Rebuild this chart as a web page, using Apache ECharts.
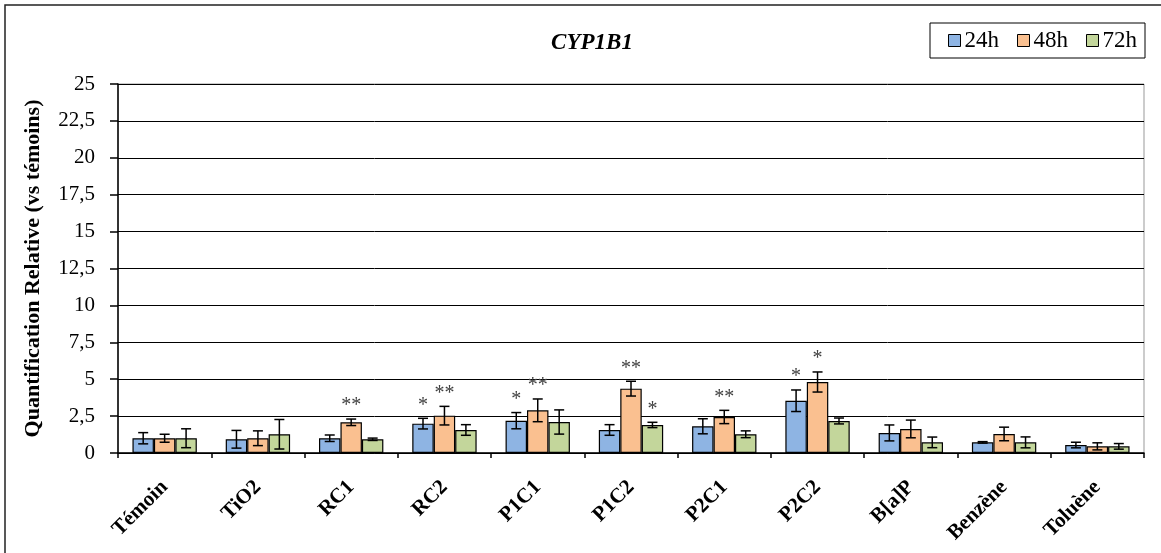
<!DOCTYPE html>
<html>
<head>
<meta charset="utf-8">
<script src="https://cdn.jsdelivr.net/npm/echarts@6/dist/echarts.min.js"></script>
<style>html,body{margin:0;padding:0;background:#fff;}#c{width:1161px;height:553px;}</style>
</head>
<body>
<div id="c"></div>
<script>
const categories = ['Témoin','TiO2','RC1','RC2','P1C1','P1C2','P2C1','P2C2','B[a]P','Benzène','Toluène'];
const seriesNames = ['24h','48h','72h'];
const v24 = [1.0,0.93,1.0,1.99,2.19,1.56,1.81,3.54,1.36,0.72,0.54];
const e24 = [0.38,0.6,0.22,0.36,0.55,0.36,0.51,0.73,0.54,0.05,0.19];
const v48 = [1.0,1.0,2.08,2.53,2.89,4.36,2.44,4.81,1.63,1.29,0.45];
const e48 = [0.27,0.5,0.22,0.63,0.77,0.5,0.45,0.68,0.6,0.46,0.24];
const v72 = [1.0,1.27,0.93,1.56,2.1,1.9,1.27,2.17,0.72,0.72,0.45];
const e72 = [0.64,1.0,0.08,0.36,0.82,0.18,0.23,0.2,0.36,0.37,0.19];
const sig24 = ['','','','*','*','','','*','','',''];
const sig48 = ['','','**','**','**','**','**','*','','',''];
const sig72 = ['','','','','','*','','','','',''];
const yTicks = [0,2.5,5,7.5,10,12.5,15,17.5,20,22.5,25];

const FONT = 'Liberation Serif';
const colors = ['#8EB4E3','#FAC090','#C3D69B'];
const vals = [v24,v48,v72], errs = [e24,e48,e72], sigs = [sig24,sig48,sig72];
const GAP = 0.31;

const chart = echarts.init(document.getElementById('c'));
const series = [];
vals.forEach((v,k)=>{
  series.push({
    name: seriesNames[k], type:'bar', data:v, barGap:'0%', barCategoryGap:(GAP*100)+'%',
    itemStyle:{color:colors[k], borderColor:'#000', borderWidth:1.2},
    emphasis:{disabled:true}
  });
});
vals.forEach((v,k)=>{
  series.push({
    name: 'err'+k, type:'custom', z:5,
    data: v.map((val,i)=>[i,val,errs[k][i]]),
    encode:{x:0,y:1},
    renderItem:function(params, api){
      const i = api.value(0), val = api.value(1), e = api.value(2);
      const base = api.coord([i,val]);
      const bw = api.size([1,0])[0]*(1-GAP)/3;
      const x = base[0] + (k-1)*bw;
      const hi = api.coord([i,val+e])[1];
      const lo = api.coord([i,Math.max(val-e,0)])[1];
      const cap = 5;
      const st = {stroke:'#000', lineWidth:1.5};
      const ch = [
        {type:'line', shape:{x1:x,y1:hi,x2:x,y2:lo}, style:st},
        {type:'line', shape:{x1:x-cap,y1:hi,x2:x+cap,y2:hi}, style:st},
        {type:'line', shape:{x1:x-cap,y1:lo,x2:x+cap,y2:lo}, style:st}
      ];
      const s = sigs[k][params.dataIndex];
      if (s) ch.push({type:'text', style:{text:s, x:x, y:hi-3, align:'center', verticalAlign:'bottom', fontFamily:FONT, fontSize:20, fill:'#404040'}});
      return {type:'group', children:ch};
    }
  });
});

chart.setOption({
  animation:false,
  textStyle:{fontFamily:FONT},
  title:{text:'CYP1B1', left:587, top:27, textAlign:'center',
    textStyle:{fontFamily:FONT, fontStyle:'italic', fontWeight:'bold', fontSize:23, color:'#000'}},
  legend:{data:seriesNames, right:16, top:23, orient:'horizontal',
    borderColor:'#000', borderWidth:1, padding:[6,8,6,18], itemGap:18,
    itemWidth:12, itemHeight:12, icon:'rect',
    itemStyle:{borderColor:'#000', borderWidth:1},
    formatter:'{t|{name}}',
    textStyle:{fontFamily:FONT, fontSize:23, color:'#000',
      rich:{t:{fontFamily:FONT, fontSize:23, color:'#000', padding:[0,0,0,-1]}}}},
  graphic:[{type:'rect', shape:{x:5,y:5,width:1200,height:600}, style:{fill:'none', stroke:'#222', lineWidth:1.5}, silent:true}],
  grid:{left:118, right:17, top:84, bottom:100, show:true, borderColor:'#999', borderWidth:1},
  xAxis:{type:'category', data:categories,
    axisLine:{lineStyle:{color:'#000', width:1.5}},
    axisTick:{show:true, length:5, lineStyle:{color:'#000', width:1.5}},
    axisLabel:{rotate:45, margin:31, fontFamily:FONT, fontWeight:'bold', fontSize:21, color:'#000'},
    splitLine:{show:false}},
  yAxis:{type:'value', min:0, max:25, interval:2.5,
    name:'Quantification Relative (vs témoins)', nameLocation:'middle', nameGap:74, nameRotate:90,
    nameTextStyle:{fontFamily:FONT, fontWeight:'bold', fontSize:22, color:'#000'},
    axisLine:{show:true, lineStyle:{color:'#000', width:1.5}},
    axisTick:{show:true, length:8, lineStyle:{color:'#000', width:1.5}},
    axisLabel:{margin:23, fontFamily:FONT, fontSize:21, color:'#000',
      formatter:function(v){ return yTicks.indexOf(v)>=0 ? String(v).replace('.',',') : ''; }},
    splitLine:{lineStyle:{color:'#000', width:1}}},
  series:series
});
</script>
</body>
</html>
